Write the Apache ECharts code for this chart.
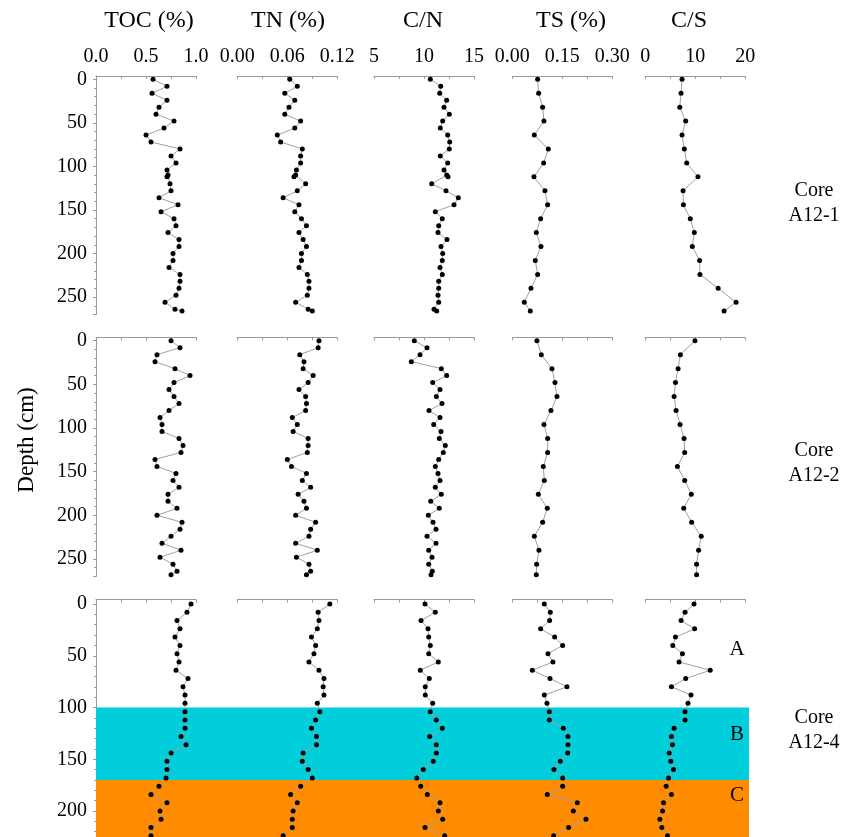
<!DOCTYPE html>
<html>
<head>
<meta charset="utf-8">
<script src="https://cdn.jsdelivr.net/npm/echarts@6/dist/echarts.min.js"></script>
<style>html,body{margin:0;padding:0;background:#fff;}#c{width:848px;height:837px;}</style>
</head>
<body>
<div id="c"></div>
<script>
// ---------------- DATA ----------------
const variables = ['TOC (%)', 'TN (%)', 'C/N', 'TS (%)', 'C/S'];
const cores = ['Core\nA12-1', 'Core\nA12-2', 'Core\nA12-4'];
const depthTicks = [0, 50, 100, 150, 200, 250];
const axisMin = [0, 0, 5, 0, 0];
const axisMax = [1, 0.12, 15, 0.30, 20];
const axisStep = [0.5, 0.06, 5, 0.15, 10];
const labelDigits = [1, 2, 0, 2, 0];

// Core A12-1
const depth1 = [0,8,16,24,32,40,48,56,64,72,80,88,96,104,110,112,120,128,136,144,152,160,168,176,184,192,200,208,216,224,232,240,248,256,264,266];
const toc1 = [0.57,0.71,0.56,0.71,0.63,0.60,0.78,0.68,0.50,0.55,0.84,0.75,0.80,0.71,0.72,0.71,0.74,0.75,0.63,0.82,0.65,0.78,0.80,0.72,0.83,0.83,0.77,0.77,0.73,0.84,0.84,0.83,0.80,0.69,0.79,0.86];
const tn1 = [0.063,0.072,0.057,0.069,0.062,0.057,0.076,0.069,0.048,0.052,0.078,0.076,0.076,0.071,0.070,0.068,0.082,0.072,0.055,0.074,0.069,0.077,0.083,0.074,0.079,0.083,0.077,0.077,0.074,0.084,0.086,0.086,0.084,0.070,0.085,0.090];
const cn1 = [10.63,11.67,11.57,12.27,12.0,12.53,11.87,11.63,12.37,12.57,12.53,11.63,12.37,12.0,12.27,12.4,10.77,12.2,13.43,13.0,11.13,11.83,11.47,11.4,12.3,11.7,11.87,11.83,11.6,11.83,11.47,11.47,11.4,11.47,11.0,11.27];
const depthS1 = [0,16,32,48,64,80,96,112,128,144,160,176,192,208,224,240,256,266];
const ts1 = [0.076,0.079,0.091,0.095,0.066,0.108,0.094,0.065,0.098,0.106,0.085,0.072,0.086,0.069,0.076,0.056,0.036,0.054];
const cs1 = [7.35,7.15,6.89,8.08,7.35,7.81,8.28,10.53,7.55,7.62,9.0,9.8,9.4,10.86,10.93,14.57,18.15,15.76];

// Core A12-2
const depth2 = [0,8,16,24,32,40,48,56,64,72,80,88,96,104,112,120,128,136,144,152,160,168,176,184,192,200,208,216,224,232,240,248,256,264,268];
const toc2 = [0.75,0.84,0.61,0.59,0.79,0.94,0.78,0.73,0.78,0.83,0.73,0.64,0.66,0.66,0.83,0.87,0.85,0.59,0.61,0.80,0.77,0.83,0.72,0.72,0.81,0.61,0.86,0.84,0.75,0.66,0.85,0.64,0.77,0.81,0.75];
const tn2 = [0.098,0.097,0.075,0.080,0.079,0.091,0.085,0.074,0.082,0.083,0.082,0.066,0.072,0.067,0.085,0.085,0.084,0.060,0.065,0.083,0.078,0.088,0.073,0.080,0.083,0.070,0.094,0.088,0.086,0.070,0.096,0.071,0.086,0.088,0.083];
const cn2 = [9.03,10.3,9.6,8.73,11.73,12.27,10.87,11.6,11.23,11.8,10.5,11.6,10.97,11.7,11.53,12.13,11.93,11.47,11.13,11.4,11.6,11.13,11.73,10.67,11.53,10.43,10.9,11.2,10.3,11.2,10.47,10.8,10.47,10.83,10.7];
const depthS2 = [0,16,32,48,64,80,96,112,128,144,160,176,192,208,224,240,256,268];
const ts2 = [0.074,0.087,0.119,0.128,0.134,0.116,0.095,0.106,0.106,0.093,0.096,0.078,0.105,0.091,0.066,0.080,0.073,0.072];
const cs2 = [9.93,7.02,6.56,6.03,5.76,6.16,6.95,7.75,7.88,6.42,7.88,9.2,7.68,9.27,11.19,10.66,10.26,10.26];

// Core A12-4
const depth3 = [0,8,16,24,32,40,48,56,64,72,80,88,96,104,112,120,128,136,144,152,160,168,176,184,192,200,208,216,224];
const toc3 = [0.95,0.91,0.81,0.84,0.79,0.84,0.81,0.83,0.80,0.92,0.87,0.89,0.89,0.89,0.89,0.89,0.85,0.90,0.75,0.71,0.71,0.70,0.63,0.55,0.71,0.64,0.65,0.55,0.55];
const tn3 = [0.111,0.097,0.098,0.096,0.089,0.094,0.092,0.086,0.098,0.104,0.103,0.104,0.096,0.099,0.094,0.089,0.095,0.095,0.079,0.078,0.085,0.090,0.076,0.064,0.072,0.067,0.066,0.066,0.055];
const cn3 = [10.1,11.13,9.7,10.4,10.47,10.63,10.47,11.43,9.63,10.53,10.13,10.13,10.87,10.63,11.23,11.83,10.57,11.23,11.23,10.93,9.93,9.27,9.67,10.33,11.6,11.43,11.87,10.1,12.07];
const ts3 = [0.096,0.114,0.112,0.085,0.127,0.151,0.107,0.122,0.060,0.113,0.164,0.096,0.104,0.111,0.111,0.153,0.167,0.167,0.166,0.144,0.125,0.151,0.151,0.105,0.195,0.183,0.221,0.169,0.124];
const cs3 = [9.74,7.95,7.15,9.87,6.03,5.5,7.42,6.75,12.98,8.08,5.23,9.14,8.54,7.95,7.95,5.76,5.23,5.43,4.77,5.1,5.63,4.64,4.17,5.23,3.64,3.44,2.91,3.31,4.44];

// Units of core A12-4
const unitNames = ['A', 'B', 'C'];
const unitTop = [0, 100, 170];
const unitBottom = [100, 170, 270];

// ---------------- LAYOUT ----------------
const FONT = '"Liberation Serif", "Times New Roman", serif';
const AX = '#9a9a9a';
const colLeft = [96, 237.3, 374, 512.3, 645.3];
const colWidth = 100;
const rowZeroY = [79.3, 340.7, 604];     // pixel of depth 0
const rowScale = [0.871, 0.873, 1.035];  // px per cm
const rowAxisOff = [3.4, 3.4, 4.3];      // top axis line above depth 0
const depthMax = 270;

const rows = [
  [[depth1, toc1], [depth1, tn1], [depth1, cn1], [depthS1, ts1], [depthS1, cs1]],
  [[depth2, toc2], [depth2, tn2], [depth2, cn2], [depthS2, ts2], [depthS2, cs2]],
  [[depth3, toc3], [depth3, tn3], [depth3, cn3], [depth3, ts3], [depth3, cs3]]
];

const grid = [], xAxis = [], yAxis = [], series = [];

for (let r = 0; r < 3; r++) {
  for (let c = 0; c < 5; c++) {
    const gi = grid.length;
    grid.push({left: colLeft[c], width: colWidth, top: rowZeroY[r], height: depthMax * rowScale[r], outerBoundsMode: 'none', containLabel: false});
    xAxis.push({
      gridIndex: gi, type: 'value', position: 'top', offset: rowAxisOff[r],
      min: axisMin[c], max: axisMax[c], interval: axisStep[c],
      axisLine: {show: true, onZero: false, lineStyle: {color: AX, width: 1}},
      axisTick: {show: true, inside: true, length: 3, lineStyle: {color: AX}},
      minorTick: {show: true, splitNumber: 2, length: 3, lineStyle: {color: AX}},
      splitLine: {show: false},
      axisLabel: {show: r === 0, color: '#000', fontFamily: FONT, fontSize: 20, margin: 9,
        showMinLabel: true, showMaxLabel: true, hideOverlap: false,
        formatter: (v => v.toFixed(labelDigits[c]))}
    });
    yAxis.push({
      gridIndex: gi, type: 'value', inverse: true, min: 0, max: depthMax, interval: 50,
      show: c === 0,
      axisLine: {show: false},
      axisTick: {show: true, length: 3, lineStyle: {color: AX}},
      minorTick: {show: true, splitNumber: 5, length: 2, lineStyle: {color: AX}},
      splitLine: {show: false},
      axisLabel: {color: '#000', fontFamily: FONT, fontSize: 20, margin: 9,
        showMinLabel: true, showMaxLabel: false,
        formatter: v => (depthTicks.indexOf(v) >= 0 ? String(v) : '')}
    });
    const [dep, vals] = rows[r][c];
    series.push({
      type: 'line', xAxisIndex: gi, yAxisIndex: gi, z: 5,
      data: vals.map((v, i) => [v, dep[i]]),
      symbol: 'circle', symbolSize: 5, showSymbol: true,
      itemStyle: {color: '#000'},
      lineStyle: {color: '#a0a0a0', width: 1},
      silent: true, animation: false
    });
  }
}

// frame grids: carry the depth axis line and (row 3) unit bands
for (let r = 0; r < 3; r++) {
  const gi = grid.length;
  const off = rowAxisOff[r] / rowScale[r];
  grid.push({left: 96, width: 653, top: rowZeroY[r] - rowAxisOff[r], height: (depthMax + off) * rowScale[r], outerBoundsMode: 'none', containLabel: false});
  xAxis.push({gridIndex: gi, type: 'value', min: 0, max: 1, show: false});
  yAxis.push({gridIndex: gi, type: 'value', inverse: true, min: -off, max: depthMax,
    axisLine: {show: true, lineStyle: {color: AX, width: 1}}, axisTick: {show: false},
    axisLabel: {show: false}, splitLine: {show: false}});
  if (r === 2) {
    const bandColors = [null, '#00CEDB', '#FF8C00'];
    const areas = [];
    for (let u = 1; u < unitNames.length; u++) {
      areas.push([{yAxis: unitTop[u], itemStyle: {color: bandColors[u], opacity: 1}}, {yAxis: unitBottom[u]}]);
    }
    series.push({type: 'line', xAxisIndex: gi, yAxisIndex: gi, z: 1, data: [], silent: true, animation: false,
      markArea: {silent: true, label: {show: false}, data: areas}});
  }
}

// ---------------- TEXT ----------------
const graphic = [];
const titleX = [149, 288, 423, 571, 689];
const txt = (x, y, text, size, extra) => Object.assign({type: 'text', x, y, z: 100, zlevel: 0,
  style: {text, fontFamily: FONT, fontSize: size, lineHeight: 25, fill: '#000', align: 'center', verticalAlign: 'middle'}}, extra || {});
variables.forEach((t, i) => graphic.push(txt(titleX[i], 21, t, 24)));
graphic.push(txt(27, 440, 'Depth (cm)', 23, {rotation: Math.PI / 2}));
const coreY = [203, 463, 730];
cores.forEach((t, i) => graphic.push(txt(814, coreY[i], t, 20)));
const unitLabelY = [649, 734, 795];
unitNames.forEach((t, i) => graphic.push(txt(737, unitLabelY[i], t, 21)));

const chart = echarts.init(document.getElementById('c'), null, {renderer: 'canvas'});
chart.setOption({animation: false, backgroundColor: '#fff', grid, xAxis, yAxis, series, graphic});
</script>
</body>
</html>
